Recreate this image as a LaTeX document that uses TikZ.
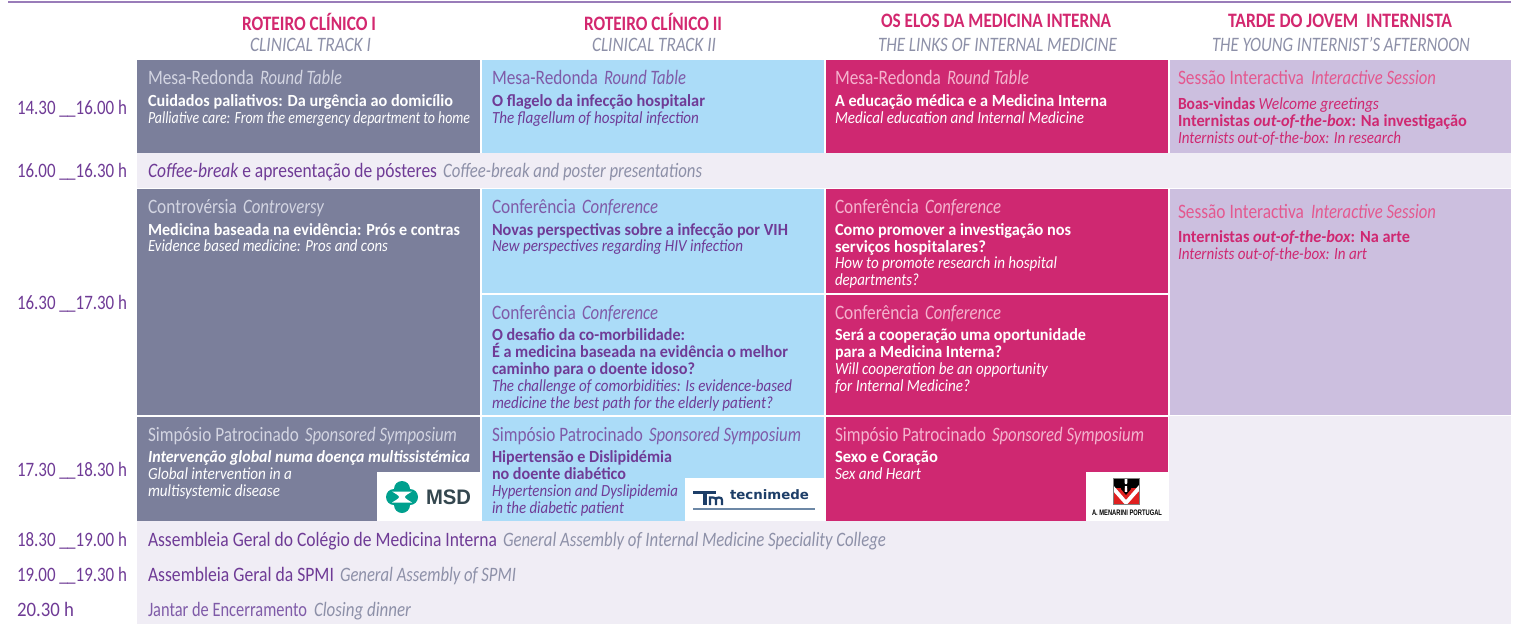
\documentclass[tikz,border=0pt]{standalone}
\usepackage{fontspec}
\usepackage{graphicx}
\setmainfont{Carlito}
\newfontfamily\logofont{Liberation Sans}
\newfontfamily\tecfont{DejaVu Sans}
\definecolor{cgray}{HTML}{7B7F9B}
\definecolor{cblue}{HTML}{ABDCF8}
\definecolor{cpink}{HTML}{CF2871}
\definecolor{clil}{HTML}{CCBFDF}
\definecolor{cpale}{HTML}{F0EDF5}
\definecolor{cpur}{HTML}{6F3B96}
\definecolor{cpur2}{HTML}{7F5BA8}
\definecolor{cgt}{HTML}{8D90A8}
\definecolor{cgl}{HTML}{D3D5E2}
\definecolor{cpl}{HTML}{F4B3CE}
\definecolor{cpm}{HTML}{E4588F}
\definecolor{chead}{HTML}{D3286F}
\definecolor{cteal}{HTML}{00A08E}
\definecolor{cmsd}{HTML}{34474F}
\definecolor{ctec}{HTML}{1D3E68}
\definecolor{ctecl}{HTML}{6D88A6}
\definecolor{cred}{HTML}{E02020}
\tikzset{
  x=1pt,y=-1pt,
  cell/.style={draw=none,inner sep=0,outer sep=0},
  txt/.style={inner sep=0,outer sep=0,anchor=base west},
}
\newcounter{tn}
% x, baseline, width, size, text
\newcommand\TT[6][txt]{\stepcounter{tn}\node[#1] (t\thetn) at (#2,#3) {\resizebox{#4pt}{\height}{\fontsize{#5}{#5}\selectfont #6}};}
\newcommand\cellbox[6]{\fill[#6] (#2,#3) rectangle (#4,#5) node[cell,pos=.5] (#1) {};}
\newcommand\us{\_\kern-0.8pt\_}
\begin{document}
\begin{tikzpicture}
\useasboundingbox (0,0) rectangle (1515,624);
\fill[white] (0,0) rectangle (1515,624);
\draw[color=cpur2!80,line width=1.5pt] (8,2) coordinate (topa) -- (1511,2) coordinate (topb);
% pale bands
\cellbox{pa}{137}{153}{1511}{188}{cpale}
\cellbox{pb}{137}{521}{1511}{624}{cpale}
\cellbox{pc}{1169}{416}{1511}{521}{cpale}
% col1
\cellbox{g1}{137}{60}{480}{153}{cgray}
\cellbox{g2}{137}{189}{480}{415}{cgray}
\cellbox{g3}{137}{417}{480}{521}{cgray}
% col2
\cellbox{b1}{481.5}{60}{824}{153}{cblue}
\cellbox{b2}{481.5}{189}{824}{293}{cblue}
\cellbox{b3}{481.5}{295}{824}{415}{cblue}
\cellbox{b4}{481.5}{417}{824}{521}{cblue}
% col3
\cellbox{p1}{825.5}{60}{1168}{153}{cpink}
\cellbox{p2}{825.5}{189}{1168}{293}{cpink}
\cellbox{p3}{825.5}{295}{1168}{415}{cpink}
\cellbox{p4}{825.5}{417}{1168}{521}{cpink}
% col4
\cellbox{l1}{1169.5}{60}{1511}{153}{clil}
\cellbox{l2}{1169.5}{189}{1511}{415}{clil}
% logo panels
\cellbox{w1}{377}{472}{480}{521}{white}
\cellbox{w2}{685}{478}{824}{521}{white}
\cellbox{w3}{1086}{472}{1168}{521}{white}
% MSD symbol
\fill[cteal] (402,489) circle (8) (402,505) circle (8) (394,497) circle (8) (410,497) circle (8);
\fill[white] (392,491.5) -- (412,491.5) .. controls (408,494) and (405,495.5) .. (405,497) .. controls (405,498.5) and (408,500) .. (412,502.5) -- (392,502.5) .. controls (396,500) and (399,498.5) .. (399,497) .. controls (399,495.5) and (396,494) .. (392,491.5) -- cycle;
\TT{426}{504}{45}{21}{\logofont\bfseries\color{cmsd}MSD}
% tecnimede symbol
\fill[ctec] (693,491) rectangle (716,494);
\fill[ctec] (702.5,494) rectangle (707,505);
\draw[ctec,line width=2.2pt] (710,505) -- (710,497.5) -- (713,497.5) .. controls (715,497.5) and (716,498.5) .. (716,500) -- (716,505);
\draw[ctec,line width=2.2pt] (716,499.5) .. controls (716,498) and (717.5,497.5) .. (719,497.5) .. controls (721,497.5) and (722,498.5) .. (722,500) -- (722,505);
\TT{730}{499}{79}{13}{\tecfont\bfseries\color{ctec}tecnimede}
\draw[ctecl,line width=1.5pt] (693,509) -- (815,509);
% Menarini symbol
\fill[black] (1113,478.5) rectangle (1139,496);
\fill[cred] (1113,488) rectangle (1139,504);
\fill[white] (1124.7,478) rectangle (1127.3,484) (1124.7,486) rectangle (1127.3,492);
\fill[white] (1113,485) -- (1126,500) -- (1139,485) -- (1139,491) -- (1127.5,504) -- (1124.5,504) -- (1113,491) -- cycle;
\fill[black] (1121,489) -- (1126,495) -- (1131,489) -- (1131,483) -- (1127.3,483) -- (1127.3,492) -- (1124.7,492) -- (1124.7,483) -- (1121,483) -- cycle;
\draw[gray,line width=.7pt] (1113,478.5) rectangle (1139,504.5);
\TT{1092}{515.5}{70}{8}{\logofont\bfseries\color{black}A. MENARINI PORTUGAL}
% headers
\TT{242}{30}{134}{20.5}{\bfseries\color{chead}ROTEIRO CLÍNICO I}
\TT{250}{51.5}{121}{20.5}{\itshape\color{cgt}CLINICAL TRACK I}
\TT{584}{30}{138}{20.5}{\bfseries\color{chead}ROTEIRO CLÍNICO II}
\TT{592}{51.5}{124}{20.5}{\itshape\color{cgt}CLINICAL TRACK II}
\TT{881}{27}{230}{20.5}{\bfseries\color{chead}OS ELOS DA MEDICINA INTERNA}
\TT{878}{51.5}{239}{20.5}{\itshape\color{cgt}THE LINKS OF INTERNAL MEDICINE}
\TT{1228}{27}{224}{20.5}{\bfseries\color{chead}TARDE DO JOVEM\ \ INTERNISTA}
\TT{1212}{51.5}{258}{20.5}{\itshape\color{cgt}THE YOUNG INTERNIST'S AFTERNOON}
% times
\TT{17}{114}{110}{20.5}{\color{cpur}14.30 \us16.00 h}
\TT{17}{177}{110}{20.5}{\color{cpur}16.00 \us16.30 h}
\TT{17}{309}{110}{20.5}{\color{cpur}16.30 \us17.30 h}
\TT{17}{476}{110}{20.5}{\color{cpur}17.30 \us18.30 h}
\TT{17}{546}{110}{20.5}{\color{cpur}18.30 \us19.00 h}
\TT{17}{581}{110}{20.5}{\color{cpur}19.00 \us19.30 h}
\TT{17}{616}{57}{20.5}{\color{cpur}20.30 h}
% col1 text
\TT{148}{84}{106}{20.5}{\color{cgl}Mesa-Redonda}
\TT{260}{84}{82}{20.5}{\itshape\color{cgl}Round Table}
\TT{148}{106}{305}{17}{\bfseries\color{white}Cuidados paliativos: Da urgência ao domicílio}
\TT{148}{123}{322}{17}{\itshape\color{white}Palliative care: From the emergency department to home}
\TT{148}{213}{89}{20.5}{\color{cgl}Controvérsia}
\TT{243}{213}{81}{20.5}{\itshape\color{cgl}Controversy}
\TT{148}{235}{312}{17}{\bfseries\color{white}Medicina baseada na evidência: Prós e contras}
\TT{148}{251}{240}{17}{\itshape\color{white}Evidence based medicine: Pros and cons}
\TT{148}{441}{151}{20.5}{\color{cgl}Simpósio Patrocinado}
\TT{305}{441}{152}{20.5}{\itshape\color{cgl}Sponsored Symposium}
\TT{148}{462}{322}{17}{\bfseries\itshape\color{white}Intervenção global numa doença multissistémica}
\TT{148}{479}{144}{17}{\itshape\color{white}Global intervention in a}
\TT{148}{496}{132}{17}{\itshape\color{white}multisystemic disease}
% col2 text
\TT{492}{84}{106}{20.5}{\color{cpur2}Mesa-Redonda}
\TT{604}{84}{82}{20.5}{\itshape\color{cpur2}Round Table}
\TT{492}{106}{213}{17}{\bfseries\color{cpur}O flagelo da infecção hospitalar}
\TT{492}{123}{207}{17}{\itshape\color{cpur}The flagellum of hospital infection}
\TT{492}{213}{84}{20.5}{\color{cpur2}Conferência}
\TT{582}{213}{76}{20.5}{\itshape\color{cpur2}Conference}
\TT{492}{235}{296}{17}{\bfseries\color{cpur}Novas perspectivas sobre a infecção por VIH}
\TT{492}{251}{251}{17}{\itshape\color{cpur}New perspectives regarding HIV infection}
\TT{492}{319}{84}{20.5}{\color{cpur2}Conferência}
\TT{582}{319}{76}{20.5}{\itshape\color{cpur2}Conference}
\TT{492}{340}{193}{17}{\bfseries\color{cpur}O desafio da co-morbilidade:}
\TT{492}{357}{296}{17}{\bfseries\color{cpur}É a medicina baseada na evidência o melhor}
\TT{492}{374}{203}{17}{\bfseries\color{cpur}caminho para o doente idoso?}
\TT{492}{391}{300}{17}{\itshape\color{cpur}The challenge of comorbidities: Is evidence-based}
\TT{492}{408}{281}{17}{\itshape\color{cpur}medicine the best path for the elderly patient?}
\TT{492}{441}{151}{20.5}{\color{cpur2}Simpósio Patrocinado}
\TT{649}{441}{152}{20.5}{\itshape\color{cpur2}Sponsored Symposium}
\TT{492}{462}{180}{17}{\bfseries\color{cpur}Hipertensão e Dislipidémia}
\TT{492}{479}{134}{17}{\bfseries\color{cpur}no doente diabético}
\TT{492}{496}{186}{17}{\itshape\color{cpur}Hypertension and Dyslipidemia}
\TT{492}{513}{132}{17}{\itshape\color{cpur}in the diabetic patient}
% col3 text
\TT{835}{84}{106}{20.5}{\color{cpl}Mesa-Redonda}
\TT{947}{84}{82}{20.5}{\itshape\color{cpl}Round Table}
\TT{835}{106}{272}{17}{\bfseries\color{white}A educação médica e a Medicina Interna}
\TT{835}{123}{249}{17}{\itshape\color{white}Medical education and Internal Medicine}
\TT{835}{213}{84}{20.5}{\color{cpl}Conferência}
\TT{925}{213}{76}{20.5}{\itshape\color{cpl}Conference}
\TT{835}{235}{236}{17}{\bfseries\color{white}Como promover a investigação nos}
\TT{835}{252}{151}{17}{\bfseries\color{white}serviços hospitalares?}
\TT{835}{268}{222}{17}{\itshape\color{white}How to promote research in hospital}
\TT{835}{285}{84}{17}{\itshape\color{white}departments?}
\TT{835}{319}{84}{20.5}{\color{cpl}Conferência}
\TT{925}{319}{76}{20.5}{\itshape\color{cpl}Conference}
\TT{835}{340}{251}{17}{\bfseries\color{white}Será a cooperação uma oportunidade}
\TT{835}{357}{167}{17}{\bfseries\color{white}para a Medicina Interna?}
\TT{835}{374}{213}{17}{\itshape\color{white}Will cooperation be an opportunity}
\TT{835}{391}{135}{17}{\itshape\color{white}for Internal Medicine?}
\TT{835}{441}{151}{20.5}{\color{cpl}Simpósio Patrocinado}
\TT{992}{441}{152}{20.5}{\itshape\color{cpl}Sponsored Symposium}
\TT{835}{462}{103}{17}{\bfseries\color{white}Sexo e Coração}
\TT{835}{479}{86}{17}{\itshape\color{white}Sex and Heart}
% col4 text
\TT{1178}{84}{126}{20.5}{\color{cpm}Sessão Interactiva}
\TT{1311}{84}{125}{20.5}{\itshape\color{cpm}Interactive Session}
\TT{1178}{109}{201}{17}{\color{cpink}\textbf{Boas-vindas} {\itshape Welcome greetings}}
\TT{1178}{126}{289}{17}{\bfseries\color{cpink}Internistas {\itshape out-of-the-box}: Na investigação}
\TT{1178}{143}{223}{17}{\itshape\color{cpink}Internists out-of-the-box: In research}
\TT{1178}{218}{126}{20.5}{\color{cpm}Sessão Interactiva}
\TT{1311}{218}{125}{20.5}{\itshape\color{cpm}Interactive Session}
\TT{1178}{242}{232}{17}{\bfseries\color{cpink}Internistas {\itshape out-of-the-box}: Na arte}
\TT{1178}{259}{189}{17}{\itshape\color{cpink}Internists out-of-the-box: In art}
% bands
\TT{148}{177}{289}{20.5}{\color{cpur}{\itshape Coffee-break} e apresentação de pósteres}
\TT{443}{177}{259}{20.5}{\itshape\color{cgt}Coffee-break and poster presentations}
\TT{148}{546}{349}{20.5}{\color{cpur}Assembleia Geral do Colégio de Medicina Interna}
\TT{503}{546}{383}{20.5}{\itshape\color{cgt}General Assembly of Internal Medicine Speciality College}
\TT{148}{581}{186}{20.5}{\color{cpur}Assembleia Geral da SPMI}
\TT{340}{581}{176}{20.5}{\itshape\color{cgt}General Assembly of SPMI}
\TT{148}{616}{159}{20.5}{\color{cpur2}Jantar de Encerramento}
\TT{314}{616}{97}{20.5}{\itshape\color{cgt}Closing dinner}
\end{tikzpicture}
\end{document}
